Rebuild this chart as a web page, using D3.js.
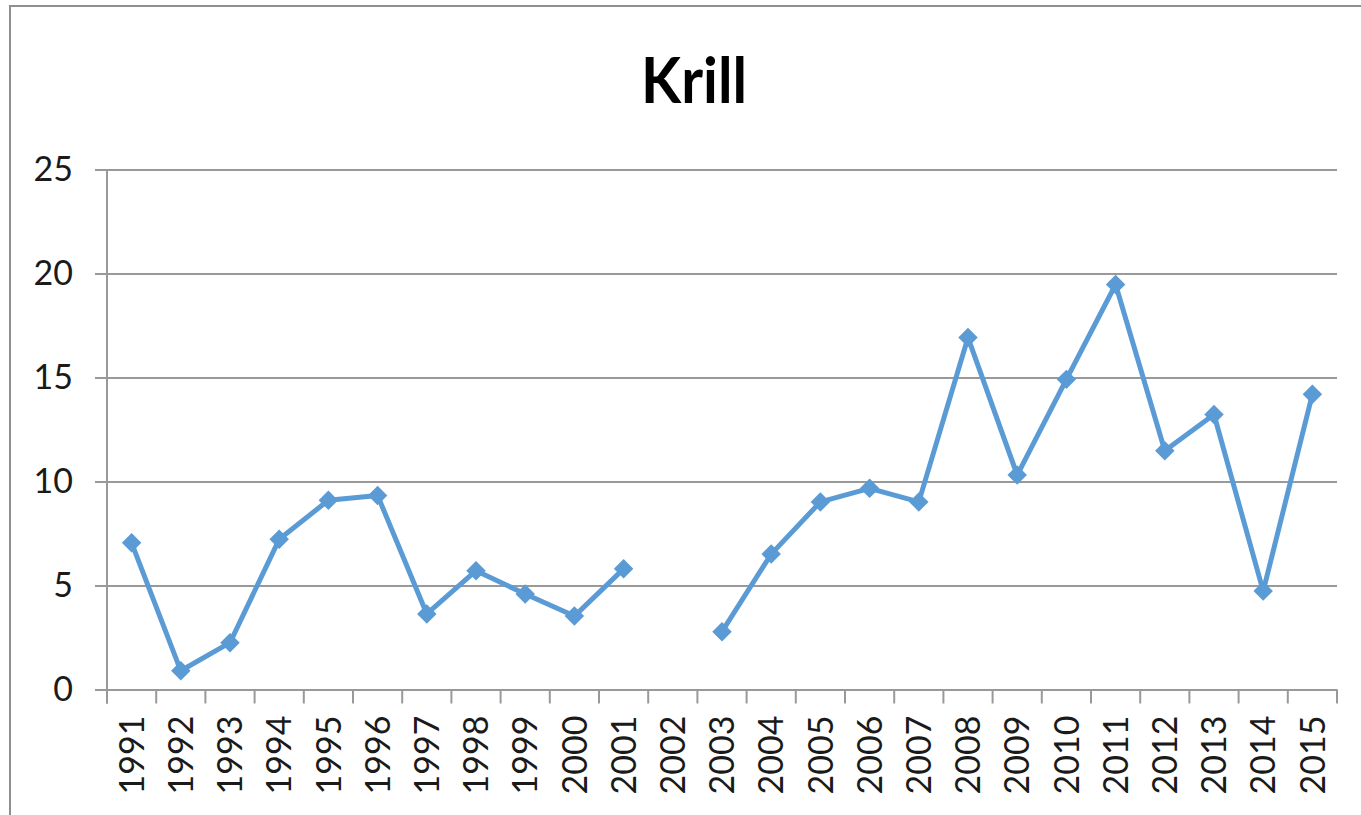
<!DOCTYPE html>
<html>
<head>
<meta charset="utf-8">
<script src="https://d3js.org/d3.v7.min.js"></script>
<style>
  body { margin: 0; background: #fff; }
  svg { display: block; }
  text { font-family: Lato, "Open Sans", sans-serif; fill: #1a1a1a; }
</style>
</head>
<body>
<div id="chart"></div>
<script>
// krill values per year, 2002 has no value
var years = ["1991","1992","1993","1994","1995","1996","1997","1998","1999","2000","2001","2002","2003",
             "2004","2005","2006","2007","2008","2009","2010","2011","2012","2013","2014","2015"];
var krill = [7.05, 0.9, 2.25, 7.22, 9.1, 9.33, 3.63, 5.71, 4.59, 3.53, 5.8, null, 2.78,
             6.51, 9.02, 9.67, 9.02, 16.92, 10.31, 14.91, 19.47, 11.48, 13.22, 4.73, 14.2];
var yTicks = [0, 5, 10, 15, 20, 25];
var title = "Krill";

var W = 1361, H = 815;
var margin = {left: 107, right: 24, top: 169.5, bottom: 125.5};

var svg = d3.select("#chart").append("svg")
    .attr("width", W)
    .attr("height", H);

// outer chart frame (runs off the right and bottom edges like the screenshot)
svg.append("rect")
    .attr("x", 10).attr("y", 6)
    .attr("width", 1368).attr("height", 820)
    .attr("fill", "none")
    .attr("stroke", "#8f8f8f")
    .attr("stroke-width", 2);

svg.append("text")
    .attr("x", 694).attr("y", 103)
    .attr("text-anchor", "middle")
    .attr("font-size", 64)
    .attr("font-weight", "bold")
    .attr("textLength", 106)
    .attr("lengthAdjust", "spacingAndGlyphs")
    .style("fill", "#000")
    .text(title);

var x = d3.scaleBand()
    .domain(years)
    .range([margin.left, W - margin.right]);

var y = d3.scaleLinear()
    .domain([0, 25])
    .range([H - margin.bottom, margin.top]);

// gridlines + y ticks
var gy = svg.append("g")
    .attr("transform", "translate(" + margin.left + ",0)")
    .call(d3.axisLeft(y).tickValues(yTicks).tickSize(12).tickPadding(22).tickSizeOuter(0));
gy.select(".domain").remove();
gy.selectAll(".tick line")
    .attr("x2", W - margin.right - margin.left)
    .attr("x1", -12)
    .attr("stroke", "#999")
    .attr("stroke-width", 2);
gy.selectAll(".tick text")
    .attr("font-size", 34)
    .attr("font-family", "Lato, sans-serif")
    .attr("fill", "#1a1a1a");

// y axis line down to tick bottom
svg.append("line")
    .attr("x1", margin.left).attr("x2", margin.left)
    .attr("y1", y(25)).attr("y2", y(0) + 14)
    .attr("stroke", "#999")
    .attr("stroke-width", 2);

// x axis: labels at band centres, ticks at band edges
var gx = svg.append("g")
    .attr("transform", "translate(0," + y(0) + ")")
    .call(d3.axisBottom(x).tickSize(0).tickSizeOuter(0));
gx.select(".domain")
    .attr("stroke", "#999")
    .attr("stroke-width", 2);
gx.selectAll(".tick text")
    .attr("font-size", 34)
    .attr("font-family", "Lato, sans-serif")
    .attr("fill", "#1a1a1a")
    .attr("transform", "rotate(-90)")
    .attr("text-anchor", "end")
    .attr("x", -26)
    .attr("y", 0)
    .attr("dy", "0.36em");

var edges = years.map(function(d) { return x(d); }).concat([x.range()[1]]);
gx.selectAll(".edge")
    .data(edges)
    .enter().append("line")
    .attr("class", "edge")
    .attr("x1", function(d) { return d; })
    .attr("x2", function(d) { return d; })
    .attr("y1", 0).attr("y2", 14)
    .attr("stroke", "#999")
    .attr("stroke-width", 2);

var pts = years.map(function(d, i) { return {year: d, v: krill[i]}; });
var cx = function(d) { return x(d.year) + x.bandwidth() / 2; };

var line = d3.line()
    .defined(function(d) { return d.v != null; })
    .x(cx)
    .y(function(d) { return y(d.v); });

svg.append("path")
    .datum(pts)
    .attr("d", line)
    .attr("fill", "none")
    .attr("stroke", "#5b9bd5")
    .attr("stroke-width", 5)
    .attr("stroke-linejoin", "round");

svg.selectAll(".mark")
    .data(pts.filter(function(d) { return d.v != null; }))
    .enter().append("path")
    .attr("class", "mark")
    .attr("d", d3.symbol().type(d3.symbolSquare).size(190))
    .attr("transform", function(d) { return "translate(" + cx(d) + "," + y(d.v) + ") rotate(45)"; })
    .attr("fill", "#5b9bd5");
</script>
</body>
</html>
